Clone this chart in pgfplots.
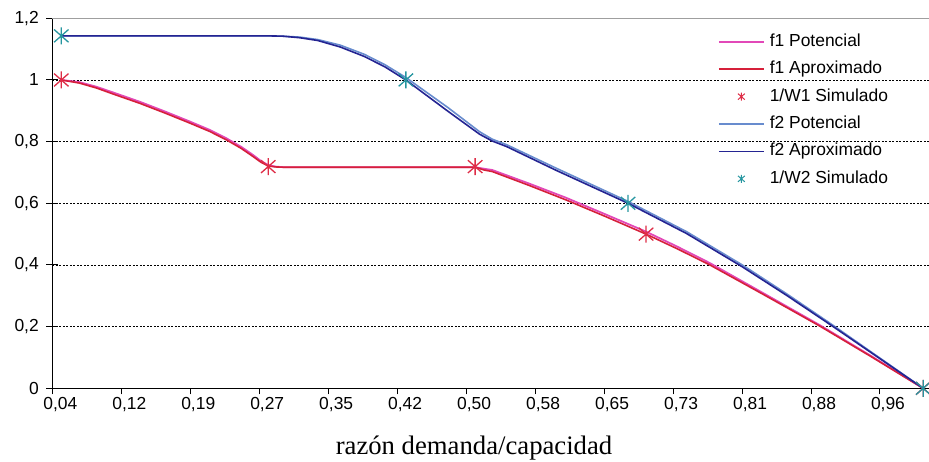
\documentclass[border=0pt]{standalone}
\usepackage{fontspec}
\setmainfont{Liberation Sans}
\newfontfamily\labelserif{Liberation Serif}
\usepackage{pgfplots}
\pgfplotsset{compat=1.18}

% asterisk made of a vertical bar and two diagonals
\pgfdeclareplotmark{xast}{%
  \pgfpathmoveto{\pgfqpoint{0pt}{\pgfplotmarksize}}%
  \pgfpathlineto{\pgfqpoint{0pt}{-\pgfplotmarksize}}%
  \pgfpathmoveto{\pgfqpoint{0.85\pgfplotmarksize}{0.75\pgfplotmarksize}}%
  \pgfpathlineto{\pgfqpoint{-0.85\pgfplotmarksize}{-0.75\pgfplotmarksize}}%
  \pgfpathmoveto{\pgfqpoint{-0.85\pgfplotmarksize}{0.75\pgfplotmarksize}}%
  \pgfpathlineto{\pgfqpoint{0.85\pgfplotmarksize}{-0.75\pgfplotmarksize}}%
  \pgfusepathqstroke}

\definecolor{fonepot}{RGB}{226,72,184}
\definecolor{foneapr}{RGB}{214,32,58}
\definecolor{wone}{RGB}{222,44,70}
\definecolor{ftwopot}{RGB}{104,140,206}
\definecolor{ftwoapr}{RGB}{36,36,146}
\definecolor{wtwo}{RGB}{38,150,160}

\begin{document}
\begin{tikzpicture}
\useasboundingbox (0,0) rectangle (929bp,462bp);
\begin{axis}[
  at={(52.3bp,73.7bp)}, anchor=south west,
  scale only axis, width=876.7bp, height=370bp,
  xmin=0.04, xmax=1.0145, ymin=0, ymax=1.2,
  clip=false,
  axis x line=bottom, axis y line=left,
  axis line style={-, black, line width=1.2bp},
  font=\fontsize{17.5}{20}\selectfont,
  xtick={0.04,0.1166667,0.1933333,0.27,0.3466667,0.4233333,0.5,0.5766667,0.6533333,0.73,0.8066667,0.8833333,0.96},
  xticklabels={{0,04},{0,12},{0,19},{0,27},{0,35},{0,42},{0,50},{0,58},{0,65},{0,73},{0,81},{0,88},{0,96}},
  ytick={0,0.2,0.4,0.6,0.8,1.0,1.2},
  yticklabels={0,{0,2},{0,4},{0,6},{0,8},1,{1,2}},
  extra y ticks={0,0.2,0.4,0.6,0.8,1.0,1.2},
  extra y tick labels={},
  extra y tick style={tick align=inside, grid=none},
  tick align=outside,
  major tick length=6bp,
  tick style={black, line width=1bp},
  xticklabel style={xshift=8bp},
  yticklabel style={xshift=-4bp},
  ymajorgrids,
  major grid style={black, line width=0.9bp, dash pattern=on 2bp off 1.5bp},
  xlabel={razón demanda/capacidad},
  xlabel style={font=\labelserif\fontsize{26.8}{30}\selectfont,
    at={(axis description cs:0.481,-0.180)}, anchor=base},
  legend cell align=left,
  legend image code/.code={\draw[mark repeat=2,mark phase=2,#1]
    plot coordinates {(0bp,0bp) (22.5bp,0bp) (45bp,0bp)};},
  legend style={at={(axis description cs:0.7593,0.958)}, anchor=north west,
    draw=none, fill=none, inner sep=0pt, outer sep=0pt,
    font=\fontsize{17.5}{20}\selectfont, row sep=11.4bp, column sep=5bp,
    nodes={inner sep=0pt, text height=12.5bp, text depth=3.5bp}},
]
% top border of the plot area
\draw[gray!75, line width=1bp] (rel axis cs:0,1) -- (rel axis cs:1,1);

\addplot[fonepot, line width=1.8bp, line join=round] coordinates {
  (0.050,1.000) (0.070,0.993) (0.089,0.978) (0.110,0.957) (0.1375,0.929)
  (0.165,0.898) (0.193,0.865) (0.215,0.838) (0.234,0.810) (0.250,0.783)
  (0.263,0.757) (0.272,0.737) (0.280,0.724) (0.288,0.719) (0.297,0.717)
  (0.510,0.717) (0.520,0.712) (0.529,0.708) (0.570,0.664) (0.611,0.618)
  (0.655,0.564) (0.700,0.508) (0.735,0.459) (0.771,0.406) (0.830,0.309)
  (0.893,0.205) (0.950,0.105) (1.008,0.000)};
\addlegendentry{f1 Potencial}

\addplot[foneapr, line width=1.6bp, line join=round] coordinates {
  (0.050,1.000) (0.070,0.990) (0.089,0.974) (0.110,0.952) (0.1375,0.924)
  (0.165,0.893) (0.193,0.860) (0.215,0.833) (0.234,0.805) (0.250,0.778)
  (0.263,0.752) (0.272,0.733) (0.280,0.721) (0.288,0.718) (0.297,0.717)
  (0.510,0.717) (0.520,0.708) (0.529,0.703) (0.570,0.658) (0.611,0.611)
  (0.655,0.557) (0.700,0.500) (0.735,0.452) (0.771,0.400) (0.830,0.305)
  (0.893,0.202) (0.950,0.103) (1.008,0.000)};
\addlegendentry{f1 Aproximado}

\addplot[only marks, mark=xast, mark size=8.5bp, wone, line width=1.3bp,
  legend image post style={mark size=4bp, line width=1bp}] coordinates {
  (0.050,1.000) (0.280,0.719) (0.510,0.719) (0.700,0.500) (1.008,0.000)};
\addlegendentry{1/W1 Simulado}

\addplot[ftwopot, line width=1.6bp, line join=round] coordinates {
  (0.050,1.143) (0.280,1.143) (0.296,1.142) (0.315,1.139) (0.335,1.131)
  (0.360,1.113) (0.387,1.083) (0.410,1.049) (0.433,1.008) (0.480,0.910)
  (0.515,0.832) (0.529,0.808) (0.545,0.790) (0.600,0.714) (0.680,0.606)
  (0.745,0.508) (0.807,0.400) (0.857,0.305) (0.907,0.206) (1.008,0.000)};
\addlegendentry{f2 Potencial}

\addplot[ftwoapr, line width=1.6bp, line join=round] coordinates {
  (0.050,1.143) (0.280,1.143) (0.296,1.142) (0.315,1.137) (0.335,1.128)
  (0.360,1.107) (0.387,1.076) (0.410,1.042) (0.433,1.000) (0.480,0.898)
  (0.515,0.824) (0.529,0.802) (0.545,0.784) (0.600,0.707) (0.680,0.600)
  (0.745,0.502) (0.807,0.394) (0.857,0.300) (0.907,0.202) (1.008,0.000)};
\addlegendentry{f2 Aproximado}

\addplot[only marks, mark=xast, mark size=8.5bp, wtwo, line width=1.3bp,
  legend image post style={mark size=4bp, line width=1bp}] coordinates {
  (0.050,1.143) (0.433,1.000) (0.680,0.600) (1.008,0.000)};
\addlegendentry{1/W2 Simulado}
\end{axis}
\end{tikzpicture}
\end{document}
